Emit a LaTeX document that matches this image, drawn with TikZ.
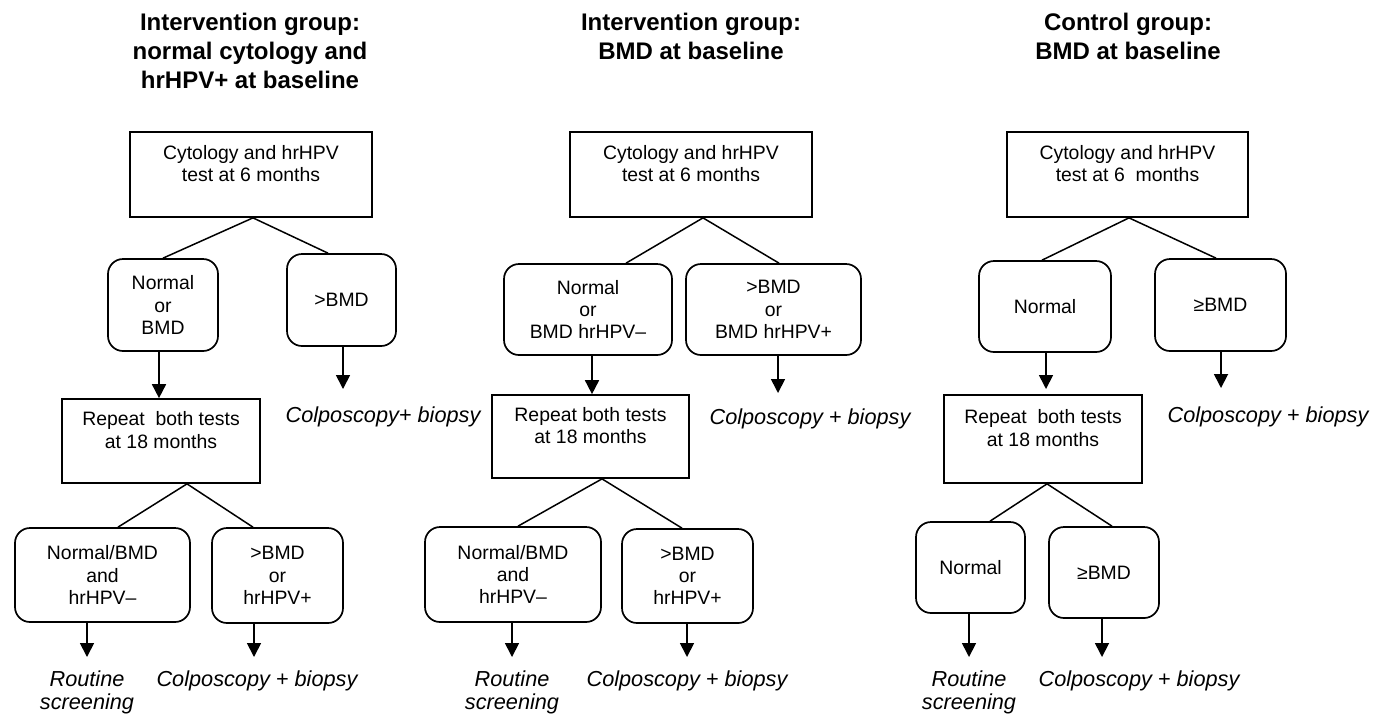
\documentclass[tikz,border=0pt]{standalone}
\usepackage{fontspec}
\setmainfont{Liberation Sans}
\usetikzlibrary{arrows.meta}
\tikzset{
  boxtext/.style={font=\fontsize{9.7}{11.1}\selectfont, align=center, inner sep=0pt},
  rectbox/.style={boxtext, draw, line width=0.85pt, rectangle},
  roundbox/.style={boxtext, draw, line width=0.85pt, rectangle, rounded corners=7.5pt},
  title/.style={font=\fontsize{12}{14.5}\selectfont\bfseries, align=center, inner sep=0pt},
  outlabel/.style={font=\fontsize{10.85}{11.5}\selectfont\itshape, align=center, inner sep=0pt},
  conn/.style={line width=0.75pt},
  arr/.style={line width=0.85pt, -{Triangle[width=7pt,length=7pt]}}
}
\begin{document}
\begin{tikzpicture}[x=0.5pt,y=-0.5pt]
\useasboundingbox (0,0) rectangle (1384,714);
% ---------- Panel 1 ----------
\node[title] (t1) at (250,51) {Intervention group:\\normal cytology and\\hrHPV+ at baseline};
\node[rectbox, minimum width=121pt, minimum height=42.5pt] (A1) at (251,174.5) {Cytology and hrHPV\\test at 6 months\\\mbox{}};
\node[roundbox, minimum width=55pt, minimum height=46pt] (B1) at (163,305) {Normal\\or\\BMD};
\node[roundbox, minimum width=54.5pt, minimum height=46pt] (C1) at (341.5,300) {>BMD};
\node[outlabel] (cb1) at (383,417) {Colposcopy+ biopsy};
\node[rectbox, minimum width=99pt, minimum height=42pt] (D1) at (161,441) {Repeat\ \ both tests\\at 18 months\\\mbox{}};
\node[roundbox, minimum width=87.5pt, minimum height=47pt] (E1) at (102.5,575) {Normal/BMD\\and\\hrHPV–};
\node[roundbox, minimum width=65.5pt, minimum height=47.5pt] (F1) at (277.5,575.5) {>BMD\\or\\hrHPV+};
\node[outlabel] (rs1) at (87,692.5) {Routine\\screening};
\node[outlabel] (cbb1) at (257,681) {Colposcopy + biopsy};
\coordinate (ce1) at (343,389);
\coordinate (ee1) at (87,657);
\coordinate (fe1) at (254,657);
\draw[conn] ([xshift=1pt]A1.south) -- (B1.north);
\draw[conn] ([xshift=1pt]A1.south) -- ([xshift=-6.75pt]C1.north);
\draw[arr] ([xshift=-2pt]B1.south) -- ([xshift=-2pt]B1.south |- D1.north);
\draw[arr] (C1.south -| ce1) -- (ce1);
\draw[conn] ([xshift=13pt]D1.south) -- ([xshift=7.75pt]E1.north);
\draw[conn] ([xshift=13pt]D1.south) -- ([xshift=-12.25pt]F1.north);
\draw[arr] (E1.south -| ee1) -- (ee1);
\draw[arr] (F1.south -| fe1) -- (fe1);
% ---------- Panel 2 ----------
\node[title] (t2) at (691,36.5) {Intervention group:\\BMD at baseline};
\node[rectbox, minimum width=121pt, minimum height=42.5pt] (A2) at (691,174.5) {Cytology and hrHPV\\test at 6 months\\\mbox{}};
\node[roundbox, minimum width=84pt, minimum height=45.5pt] (B2) at (588,309.5) {Normal\\or\\BMD hrHPV–};
\node[roundbox, minimum width=87.5pt, minimum height=45.5pt] (C2) at (773.5,309.5) {>BMD\\or\\BMD hrHPV+};
\node[outlabel] (cb2) at (810,419) {Colposcopy + biopsy};
\node[rectbox, minimum width=98.5pt, minimum height=41.5pt] (D2) at (590.5,436.5) {Repeat both tests\\at 18 months\\\mbox{}};
\node[roundbox, minimum width=88pt, minimum height=47.5pt] (E2) at (513,574.5) {Normal/BMD\\and\\hrHPV–};
\node[roundbox, minimum width=65.5pt, minimum height=47pt] (F2) at (687.5,576) {>BMD\\or\\hrHPV+};
\node[outlabel] (rs2) at (512,692.5) {Routine\\screening};
\node[outlabel] (cbb2) at (687,681) {Colposcopy + biopsy};
\coordinate (ce2) at (778,393);
\coordinate (ee2) at (512,657);
\coordinate (fe2) at (687,657);
\draw[conn] ([xshift=6pt]A2.south) -- ([xshift=19pt]B2.north);
\draw[conn] ([xshift=6pt]A2.south) -- ([xshift=2.75pt]C2.north);
\draw[arr] ([xshift=2pt]B2.south) -- ([xshift=2pt]B2.south |- D2.north);
\draw[arr] (C2.south -| ce2) -- (ce2);
\draw[conn] ([xshift=5.75pt]D2.south) -- ([xshift=2.5pt]E2.north);
\draw[conn] ([xshift=5.75pt]D2.south) -- ([xshift=-2.75pt]F2.north);
\draw[arr] (E2.south -| ee2) -- (ee2);
\draw[arr] (F2.south -| fe2) -- (fe2);
% ---------- Panel 3 ----------
\node[title] (t3) at (1128,36.5) {Control group:\\BMD at baseline};
\node[rectbox, minimum width=120.5pt, minimum height=42.5pt] (A3) at (1127.5,174.5) {Cytology and hrHPV\\test at 6\ \ months\\\mbox{}};
\node[roundbox, minimum width=66pt, minimum height=45.5pt] (B3) at (1045,306.5) {Normal};
\node[roundbox, minimum width=65.5pt, minimum height=46pt] (C3) at (1220.5,305) {≥BMD};
\node[outlabel] (cb3) at (1268,417) {Colposcopy + biopsy};
\node[rectbox, minimum width=99pt, minimum height=44pt] (D3) at (1043,439) {Repeat\ \ both tests\\at 18 months\\\mbox{}};
\node[roundbox, minimum width=54.5pt, minimum height=45.5pt] (E3) at (970.5,567.5) {Normal};
\node[roundbox, minimum width=55pt, minimum height=45.5pt] (F3) at (1104,572.5) {≥BMD};
\node[outlabel] (rs3) at (969,692.5) {Routine\\screening};
\node[outlabel] (cbb3) at (1139,681) {Colposcopy + biopsy};
\coordinate (be3) at (1046,389);
\coordinate (ce3) at (1221,388);
\coordinate (ee3) at (969,657);
\coordinate (fe3) at (1102,657);
\draw[conn] ([xshift=0.75pt]A3.south) -- ([xshift=-1.5pt]B3.north);
\draw[conn] ([xshift=0.75pt]A3.south) -- ([xshift=-2.25pt]C3.north);
\draw[arr] (B3.south -| be3) -- (be3);
\draw[arr] (C3.south -| ce3) -- (ce3);
\draw[conn] ([xshift=2pt]D3.south) -- ([xshift=9.75pt]E3.north);
\draw[conn] ([xshift=2pt]D3.south) -- ([xshift=4pt]F3.north);
\draw[arr] (E3.south -| ee3) -- (ee3);
\draw[arr] (F3.south -| fe3) -- (fe3);
\end{tikzpicture}
\end{document}
